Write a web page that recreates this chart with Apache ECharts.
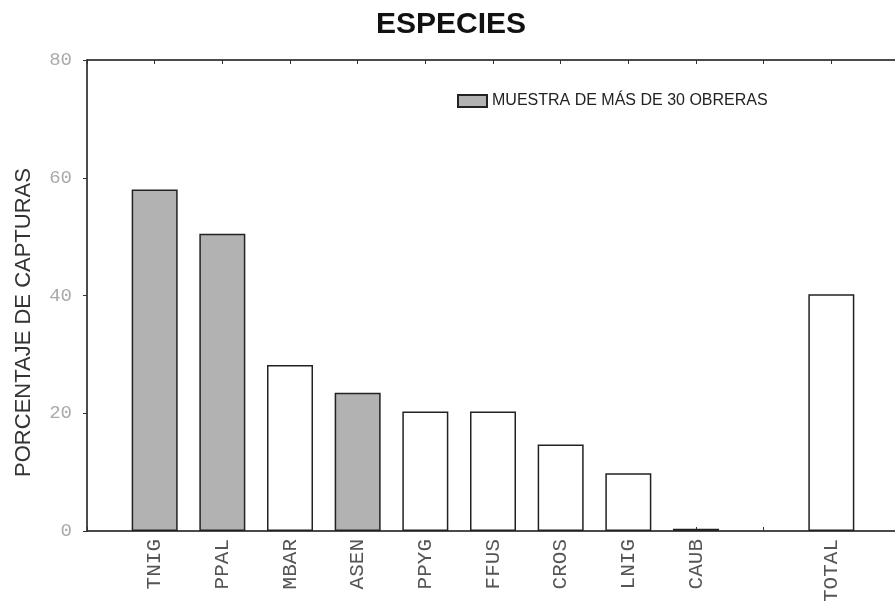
<!DOCTYPE html>
<html>
<head>
<meta charset="utf-8">
<script src="https://cdn.jsdelivr.net/npm/echarts@6/dist/echarts.min.js"></script>
<style>html,body{margin:0;padding:0;background:#fff;}#c{width:895px;height:601px;}</style>
</head>
<body>
<div id="c"></div>
<script>
var categories = [' ', 'TNIG', 'PPAL', 'MBAR', 'ASEN', 'PPYG', 'FFUS', 'CROS', 'LNIG', 'CAUB', '  ', 'TOTAL', '   '];
var muestraValues = [null, 58, 50.5, null, 23.5, null, null, null, null, null, null, null, null];
var otrasValues   = [null, null, null, 28.2, null, 20.3, 20.3, 14.7, 9.8, 0.4, null, 40.2, null];
var yTicks = [0, 20, 40, 60, 80];
var legendName = 'MUESTRA DE MÁS DE 30 OBRERAS';

var chart = echarts.init(document.getElementById('c'));
chart.setOption({
  backgroundColor: '#ffffff',
  animation: false,
  title: {
    text: 'ESPECIES', left: 371, top: 5,
    textStyle: { fontFamily: 'Liberation Sans', fontWeight: 'bold', fontSize: 30, color: '#111' }
  },
  legend: {
    data: [{ name: legendName, icon: 'rect' }], left: 452, top: 88, itemWidth: 29, itemHeight: 12, itemGap: 12,
    textStyle: { fontFamily: 'Liberation Sans', fontSize: 16, color: '#222' }
  },
  grid: { left: 87, right: -4, top: 60, bottom: 70, containLabel: false, outerBoundsMode: 'none', show: false },
  xAxis: [{
    type: 'category', data: categories, boundaryGap: false,
    axisLine: { show: true, onZero: false, lineStyle: { color: '#111', width: 1.5 } },
    axisTick: { show: true, inside: true, length: 4, lineStyle: { color: '#333' } },
    axisLabel: { rotate: 90, interval: 0, margin: 8, fontFamily: 'Liberation Mono', fontSize: 21, color: '#555' },
    splitLine: { show: false }
  }, {
    type: 'category', data: categories, boundaryGap: false, position: 'top',
    axisLine: { show: true, onZero: false, lineStyle: { color: '#111', width: 1.5 } },
    axisTick: { show: true, inside: true, length: 4, lineStyle: { color: '#333' } },
    axisLabel: { show: false }
  }],
  yAxis: [{
    type: 'value', min: 0, max: 80, interval: 20,
    name: 'PORCENTAJE DE CAPTURAS', nameLocation: 'middle', nameGap: 52,
    nameTextStyle: { fontFamily: 'Liberation Sans', fontSize: 22, color: '#333', padding: [0, 54, 0, 0] },
    axisLine: { show: true, onZero: false, lineStyle: { color: '#111', width: 1.5 } },
    axisTick: { show: true, inside: false, length: 4, lineStyle: { color: '#333' } },
    axisLabel: { margin: 15, fontFamily: 'Liberation Mono', fontSize: 19, color: '#aaa',
      formatter: function (v) { return yTicks.indexOf(v) >= 0 ? String(v) : ''; } },
    splitLine: { show: false }
  }, {
    type: 'value', min: 0, max: 80, interval: 20, position: 'right',
    axisLine: { show: true, onZero: false, lineStyle: { color: '#111', width: 1.5 } },
    axisTick: { show: false }, axisLabel: { show: false }, splitLine: { show: false }
  }],
  series: [{
    name: legendName, type: 'bar', data: muestraValues, barWidth: 46, barGap: '-100%',
    itemStyle: { color: '#b2b2b2', borderColor: '#222', borderWidth: 1.5 }
  }, {
    name: 'otras', type: 'bar', data: otrasValues, barWidth: 46, barGap: '-100%',
    itemStyle: { color: '#ffffff', borderColor: '#222', borderWidth: 1.5 }
  }]
});
</script>
</body>
</html>
